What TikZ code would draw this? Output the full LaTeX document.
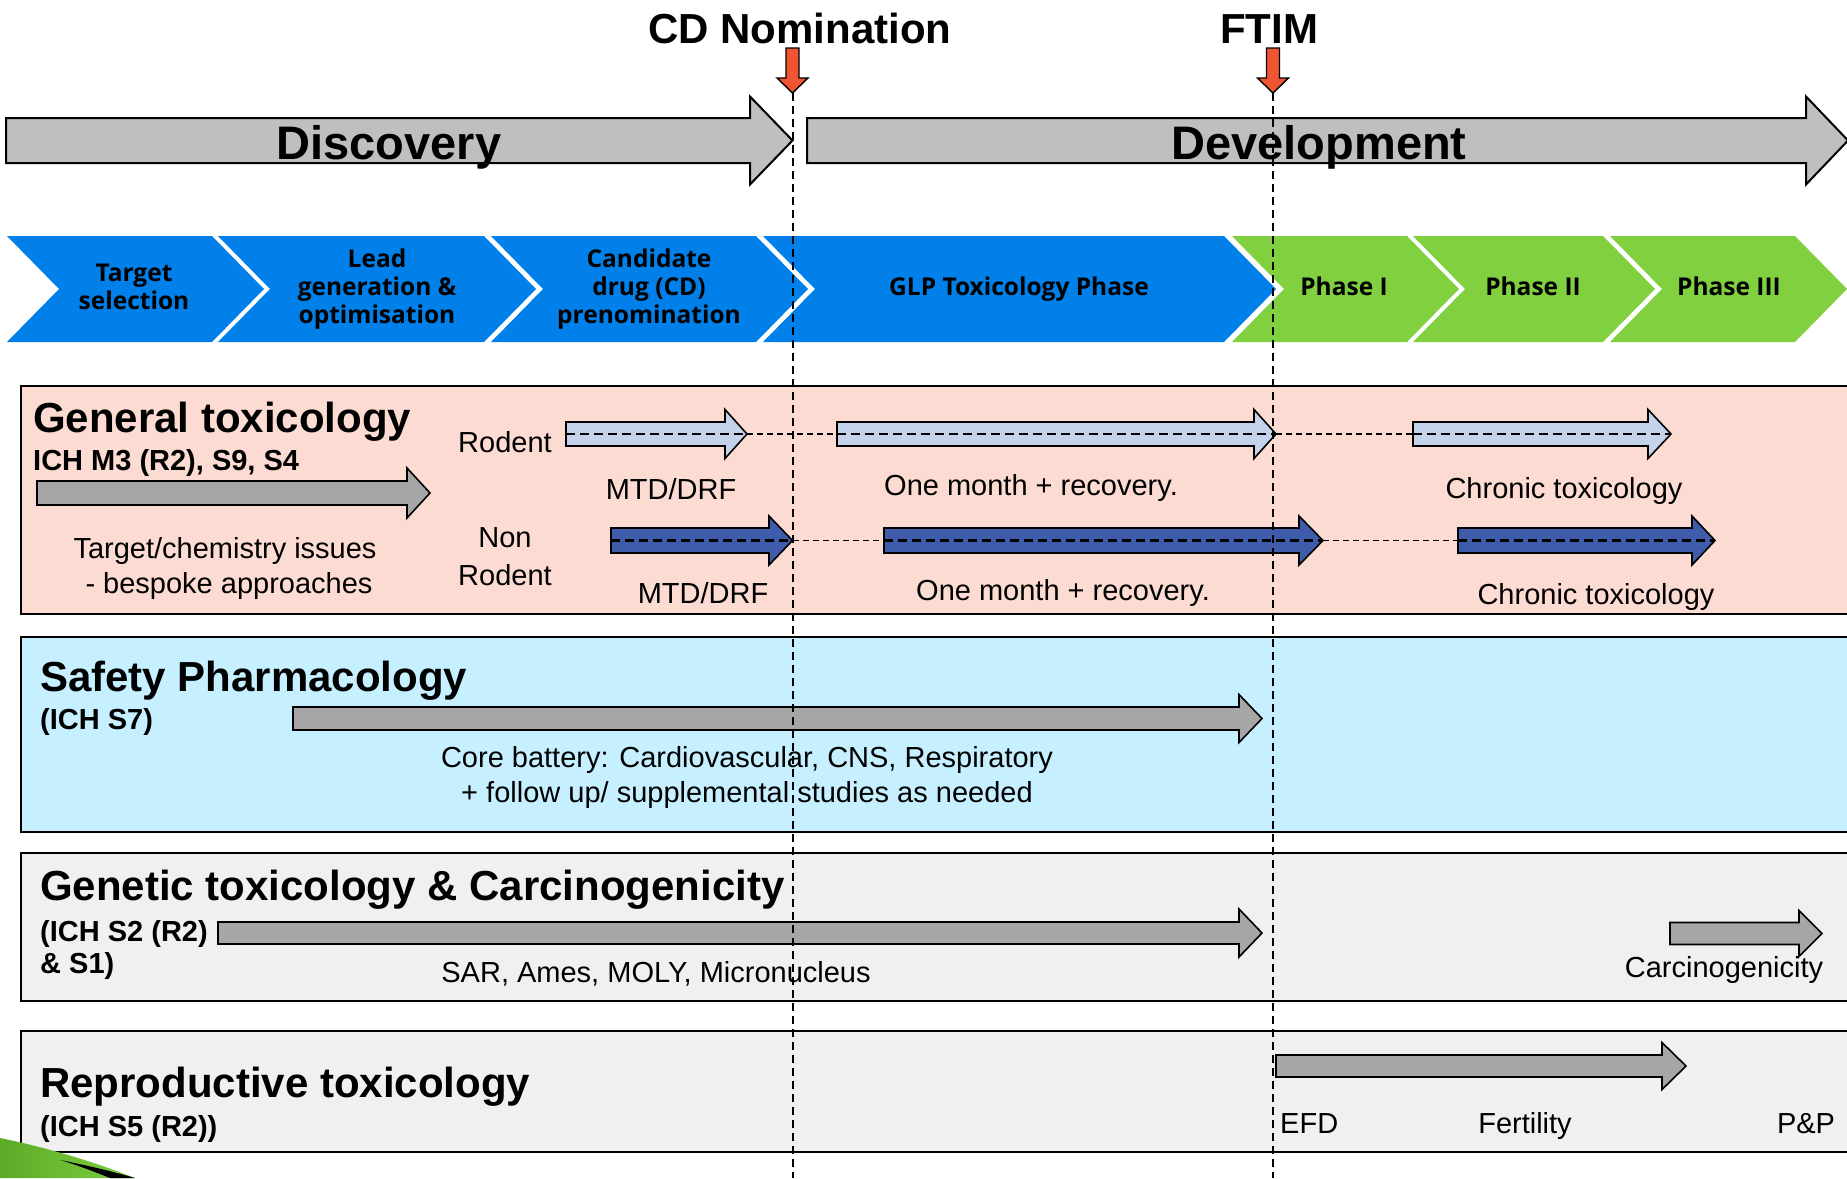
\documentclass[tikz,border=0pt]{standalone}
\usepackage{fontspec}
\setmainfont{Liberation Sans}
\newfontfamily\chevfont{Open Sans}

\definecolor{discgray}{RGB}{191,191,191}
\definecolor{bargray}{RGB}{166,166,166}
\definecolor{chevblue}{RGB}{0,128,232}
\definecolor{chevgreen}{RGB}{128,208,64}
\definecolor{markred}{RGB}{240,85,50}
\definecolor{rodblue}{RGB}{197,210,235}
\definecolor{nonrodblue}{RGB}{63,92,170}
\definecolor{genpink}{RGB}{252,220,210}
\definecolor{safecyan}{RGB}{198,240,255}
\definecolor{panelgray}{RGB}{240,240,240}
\definecolor{leafgreen}{RGB}{90,170,40}

% block arrow: style, x start, x head, x tip, y centre, half body, half head
\newcommand{\blockarrow}[7]{%
  \draw[#1] (#2,#5-#6) -- (#3,#5-#6) -- (#3,#5-#7) -- (#4,#5)
    -- (#3,#5+#7) -- (#3,#5+#6) -- (#2,#5+#6) -- cycle;}
% chevron: left, right, colour
\newcommand{\chevshape}[3]{%
  \fill[#3] (#1,236) -- (#2,236) -- (#2+52,289) -- (#2,342) -- (#1,342) -- (#1+52,289) -- cycle;}
% red milestone marker, x of tip
\newcommand{\milestone}[1]{%
  \draw[markarrow] (#1-6.5,48) -- (#1+6.5,48) -- (#1+6.5,78) -- (#1+15.5,78)
    -- (#1,93) -- (#1-15.5,78) -- (#1-6.5,78) -- cycle;}

\tikzset{
  bigarrow/.style={draw=black, line width=2pt, fill=discgray},
  grayarrow/.style={draw=black, line width=1.6pt, fill=bargray},
  rodarrow/.style={draw=black, line width=1.6pt, fill=rodblue},
  nonrodarrow/.style={draw=black, line width=1.6pt, fill=nonrodblue},
  markarrow/.style={draw=black, line width=1.4pt, fill=markred},
  panel/.style={draw=black, line width=2.5pt},
  inline/.style={dashed, line width=2.2pt, dash pattern=on 9pt off 5pt},
  linkline/.style={line width=1.4pt, dash pattern=on 6pt off 4pt},
  mileline/.style={line width=2pt, dash pattern=on 8pt off 5pt},
  headline/.style={font=\bfseries\fontsize{42}{48}\selectfont, inner sep=0pt, anchor=base},
  phaselabel/.style={font=\bfseries\fontsize{47}{54}\selectfont, inner sep=0pt, anchor=base},
  chevtext/.style={font=\chevfont\bfseries\fontsize{24.5}{28}\selectfont, align=center, inner sep=0pt},
  paneltitle/.style={font=\bfseries\fontsize{42}{48}\selectfont, anchor=base west, inner sep=0pt},
  panelsub/.style={font=\bfseries\fontsize{29}{34}\selectfont, anchor=base west, inner sep=0pt},
  body/.style={font=\fontsize{29}{34}\selectfont, anchor=base, inner sep=0pt},
}

\begin{document}
\begin{tikzpicture}[x=1pt,y=-1pt]
  \useasboundingbox (0,0) rectangle (1847,1178);
  \clip (0,0) rectangle (1847,1178);

  % Discovery / Development
  \blockarrow{bigarrow}{6}{750}{792.5}{140.5}{22.5}{44}
  \blockarrow{bigarrow}{807}{1806}{1848}{140.5}{22.5}{44}
  \node[phaselabel] (disc) at (389,159) {Discovery};
  \node[phaselabel] (dev) at (1319,159) {Development};

  % milestones
  \node[headline] (cdnom) at (800,43) {CD Nomination};
  \node[headline] (ftim) at (1269,43) {FTIM};
  \milestone{792.5}
  \milestone{1273}

  % phases
  \chevshape{7}{212}{chevblue}
  \chevshape{218}{484}{chevblue}
  \chevshape{491}{756}{chevblue}
  \chevshape{763}{1224}{chevblue}
  \chevshape{1232}{1407}{chevgreen}
  \chevshape{1413}{1603}{chevgreen}
  \chevshape{1610}{1795}{chevgreen}
  \node[chevtext] (target) at (134,287) {Target\\selection};
  \node[chevtext] (lead) at (377,289) {Lead\\generation \&\\optimisation};
  \node[chevtext] (cand) at (649,289) {Candidate\\drug (CD)\\prenomination};
  \node[chevtext, anchor=base] (glp) at (1019,295) {GLP Toxicology Phase};
  \node[chevtext, anchor=base] (ph1) at (1344,295) {Phase I};
  \node[chevtext, anchor=base] (ph2) at (1533,295) {Phase II};
  \node[chevtext, anchor=base] (ph3) at (1729,295) {Phase III};

  % general toxicology
  \draw[panel, fill=genpink] (21,386) rectangle (1875,614);
  \node[paneltitle] (gentox) at (33,432) {General toxicology};
  \node[panelsub] (genich) at (33,470) {ICH M3 (R2), S9, S4};
  \blockarrow{grayarrow}{37}{407}{430}{493}{12}{25}
  \node[body] (issues) at (225,558) {Target/chemistry issues};
  \node[body] (bespoke) at (229,593) {- bespoke approaches};
  \node[body] (rodent) at (505,452) {Rodent};
  \node[body] (nonrod) at (505,547) {Non};
  \node[body] (nonrod2) at (505,585) {Rodent};

  \blockarrow{rodarrow}{566}{725}{747}{434}{12}{24.5}
  \blockarrow{rodarrow}{837}{1254}{1276}{434}{12}{24.5}
  \blockarrow{rodarrow}{1413}{1648}{1671}{434}{12}{24.5}
  \coordinate (r1s) at (566,434); \coordinate (r1t) at (747,434);
  \coordinate (r2s) at (837,434); \coordinate (r2t) at (1276,434);
  \coordinate (r3s) at (1413,434); \coordinate (r3t) at (1671,434);
  \draw[inline] (r1s) -- (r1t);
  \draw[inline] (r2s) -- (r2t);
  \draw[inline] (r3s) -- (r3t);
  \draw[linkline] (r1t) -- (r2s);
  \draw[linkline] (r2t) -- (r3s);

  \blockarrow{nonrodarrow}{611}{769}{792.5}{540.5}{12.5}{24.5}
  \blockarrow{nonrodarrow}{884}{1299}{1323}{540.5}{12.5}{24.5}
  \blockarrow{nonrodarrow}{1458}{1692}{1715}{540.5}{12.5}{24.5}
  \coordinate (n1s) at (611,540.5); \coordinate (n1t) at (792.5,540.5);
  \coordinate (n2s) at (884,540.5); \coordinate (n2t) at (1323,540.5);
  \coordinate (n3s) at (1458,540.5); \coordinate (n3t) at (1715,540.5);
  \draw[inline] (n1s) -- (n1t);
  \draw[inline] (n2s) -- (n2t);
  \draw[inline] (n3s) -- (n3t);
  \draw[linkline] (n1t) -- (n2s);
  \draw[linkline] (n2t) -- (n3s);

  \node[body] (mtd1) at (671,499) {MTD/DRF};
  \node[body] (month1) at (1031,495) {One month + recovery.};
  \node[body] (chron1) at (1564,498) {Chronic toxicology};
  \node[body] (mtd2) at (703,603) {MTD/DRF};
  \node[body] (month2) at (1063,600) {One month + recovery.};
  \node[body] (chron2) at (1596,604) {Chronic toxicology};

  % safety pharmacology
  \draw[panel, fill=safecyan] (21,637) rectangle (1875,832);
  \node[paneltitle] (safety) at (40,691) {Safety Pharmacology};
  \node[panelsub] (safeich) at (40,729) {(ICH S7)};
  \blockarrow{grayarrow}{293}{1239}{1262}{718.5}{11.5}{24}
  \node[body] (core) at (747,767) {Core battery: Cardiovascular, CNS, Respiratory};
  \node[body] (follow) at (747,802) {+ follow up/ supplemental studies as needed};

  % genetic toxicology
  \draw[panel, fill=panelgray] (21,853) rectangle (1875,1001);
  \node[paneltitle] (genetic) at (40,900) {Genetic toxicology \& Carcinogenicity};
  \node[panelsub] (genich1) at (40,941) {(ICH S2 (R2)};
  \node[panelsub] (genich2) at (40,973) {\& S1)};
  \blockarrow{grayarrow}{218}{1239}{1262}{933}{11}{24}
  \node[body] (sar) at (656,982) {SAR, Ames, MOLY, Micronucleus};
  \blockarrow{grayarrow}{1670}{1799}{1822}{933.5}{11}{23}
  \node[body] (carc) at (1724,977) {Carcinogenicity};

  % reproductive toxicology
  \draw[panel, fill=panelgray] (21,1031) rectangle (1875,1152);
  \node[paneltitle] (repro) at (40,1097) {Reproductive toxicology};
  \node[panelsub] (reproich) at (40,1136) {(ICH S5 (R2))};
  \blockarrow{grayarrow}{1276}{1662}{1686}{1066}{11}{23.5}
  \node[body, anchor=base west] (efd) at (1280,1133) {EFD};
  \node[body] (fert) at (1525,1133) {Fertility};
  \node[body] (pp) at (1806,1133) {P\&P};

  % leaf
  \shade[left color=leafgreen, right color=chevgreen] (0,1138) .. controls (40,1146) and (90,1160) .. (135,1178) -- (0,1178) -- cycle;
  \fill[black] (60,1160) .. controls (90,1166) and (115,1172) .. (135,1178) -- (110,1178) .. controls (95,1172) and (80,1166) .. cycle;

  % milestone lines
  \coordinate (cdtop) at (792.5,93); \coordinate (cdbot) at (792.5,1178);
  \coordinate (fttop) at (1273,93); \coordinate (ftbot) at (1273,1178);
  \draw[mileline] (cdtop) -- (cdbot);
  \draw[mileline] (fttop) -- (ftbot);
\end{tikzpicture}
\end{document}
